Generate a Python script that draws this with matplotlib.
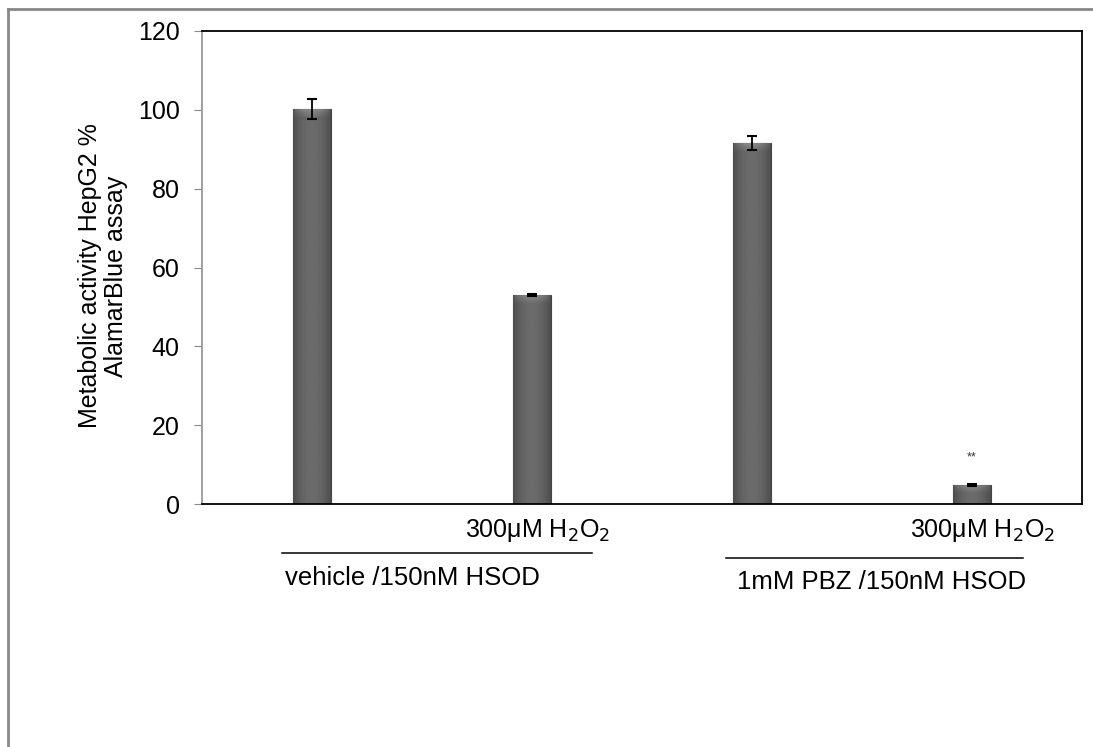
import numpy as np
import matplotlib.pyplot as plt
from matplotlib.lines import Line2D

plt.rcParams['font.family'] = ['Liberation Sans', 'DejaVu Sans']

# Treatment groups and measured metabolic activity (% of vehicle)
conditions = ["vehicle", "vehicle + H2O2", "PBZ", "PBZ + H2O2"]
activity = [100.2, 53.0, 91.5, 4.8]
errors = [2.5, 0.3, 1.8, 0.2]
yticks = [0, 20, 40, 60, 80, 100, 120]
h2o2_label = "300\u03bcM H$_2$O$_2$"
group_labels = ["vehicle /150nM HSOD", "1mM PBZ /150nM HSOD"]
significance = "**"

W, H = 1093, 747
fig = plt.figure(figsize=(W / 100, H / 100), dpi=100)
ax = fig.add_axes([202 / W, 1 - 504 / H, 880 / W, 473 / H])

x = np.arange(len(conditions))
bars = ax.bar(x, activity, width=0.17, color="#5e5e5e", edgecolor="#444444",
              linewidth=0.8, zorder=2)

# bevelled shading on each bar: darker sides, lighter top edge
nx, ny = 64, 200
gx = np.linspace(0, 1, nx)
side = 0.42 - 0.12 * (np.abs(gx - 0.5) * 2) ** 2
for b in bars:
    x0, w, h = b.get_x(), b.get_width(), b.get_height()
    top_px = 8 / 3.94  # bevel depth in data units
    gy = np.linspace(h, 0, ny)
    bevel = np.clip((gy - (h - top_px)) / top_px, 0, 1)
    img = np.tile(side, (ny, 1)) + 0.12 * bevel[:, None] * (1 - np.abs(gx - 0.5) * 2)[None, :] ** 0.3
    im = ax.imshow(img, cmap="gray", vmin=0, vmax=1, aspect="auto",
                   extent=[x0, x0 + w, 0, h], zorder=2.5, interpolation="bilinear")
    im.set_clip_path(b)

ax.errorbar(x, activity, yerr=errors, fmt="none", ecolor="black",
            elinewidth=1.3, capsize=3.5, capthick=1.5, zorder=3)

ax.text(x[3], 11.7, significance, ha="center", va="center", fontsize=9, color="#333333")

ax.set_xlim(-0.5, len(conditions) - 0.5)
ax.set_ylim(0, 120)
ax.set_yticks(yticks)
ax.set_yticklabels([str(t) for t in yticks], fontsize=18)
ax.set_xticks([])
ax.tick_params(axis="y", direction="out", length=6, color="#888888", pad=10)
for s in ["top", "right", "bottom"]:
    ax.spines[s].set_color("black")
    ax.spines[s].set_linewidth(1.3)
ax.spines["left"].set_color("#999999")
ax.spines["left"].set_linewidth(1.3)

fig.text(103 / W, 1 - 276 / H, "Metabolic activity HepG2 %\nAlamarBlue assay",
         rotation=90, ha="center", va="center", fontsize=18, linespacing=1.1)

# H2O2 labels under the treated bars
for xi, dx in ((x[1], -0.305), (x[3], -0.282)):
    ax.text(xi + dx, -8.4, h2o2_label, ha="left", va="baseline", fontsize=18,
            clip_on=False)

# group brackets and labels
group_spans = [(x[0] - 0.136, x[1] + 0.273), (x[2] - 0.118, x[3] + 0.232)]
line_y = [-12.4, -13.7]
label_x = [x[0] - 0.123, x[2] - 0.07]
label_y = [-18.8, -19.8]
for (a, b), ly, lx, ty, lab in zip(group_spans, line_y, label_x, label_y, group_labels):
    ax.plot([a, b], [ly, ly], color="black", lw=1.1, clip_on=False)
    ax.text(lx, ty, lab, ha="left", va="center", fontsize=18.5, clip_on=False)

# outer frame
fig.add_artist(Line2D([7.5 / W, 7.5 / W], [0, 1 - 9 / H], transform=fig.transFigure,
                      color="#888888", lw=2))
fig.add_artist(Line2D([7.5 / W, 1], [1 - 9 / H, 1 - 9 / H], transform=fig.transFigure,
                      color="#888888", lw=2))

fig.savefig("out.png", dpi=100)
